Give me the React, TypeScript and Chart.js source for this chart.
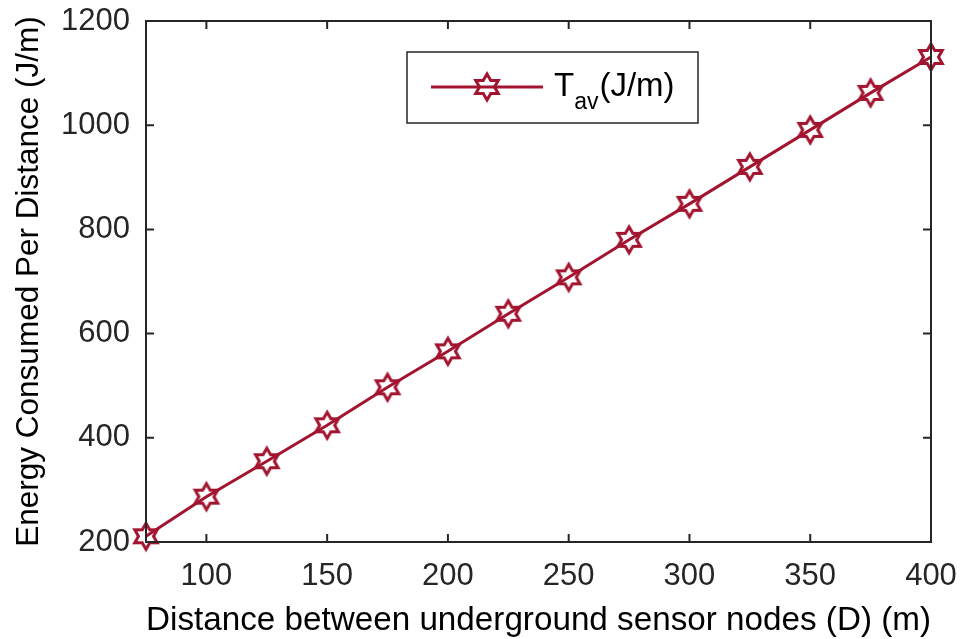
import React, { useEffect, useRef } from "react";
import { Chart, registerables } from "chart.js";

Chart.register(...registerables);

const distances = [75, 100, 125, 150, 175, 200, 225, 250, 275, 300, 325, 350, 375, 400];
const energyPerDistance = [211, 287, 355, 424, 497, 566, 638, 708, 780, 849, 920, 991, 1062, 1131];
const xTicks = [100, 150, 200, 250, 300, 350, 400];
const yTicks = [200, 400, 600, 800, 1000, 1200];
const seriesLabelMain = "T";
const seriesLabelSub = "av";
const seriesLabelTail = "(J/m)";
const xTitle = "Distance between underground sensor nodes (D) (m)";
const yTitle = "Energy Consumed Per Distance (J/m)";

const COLOR = "#A2142F";
const AXIS = "#262626";
const FONT = "'Liberation Sans', Arial, Helvetica, sans-serif";

function makeHexagram(R: number, lw: number): HTMLCanvasElement {
  const size = Math.ceil(2 * R + lw * 2 + 2);
  const c = document.createElement("canvas");
  c.width = size;
  c.height = size;
  const ctx = c.getContext("2d")!;
  const cx = size / 2;
  const cy = size / 2;
  ctx.beginPath();
  for (let k = 0; k < 12; k++) {
    const a = ((-90 + k * 30) * Math.PI) / 180;
    const r = k % 2 === 0 ? R : R / Math.sqrt(3);
    const px = cx + r * Math.cos(a);
    const py = cy + r * Math.sin(a);
    if (k === 0) ctx.moveTo(px, py);
    else ctx.lineTo(px, py);
  }
  ctx.closePath();
  ctx.strokeStyle = COLOR;
  ctx.lineWidth = lw;
  ctx.lineJoin = "miter";
  ctx.stroke();
  return c;
}

const boxPlugin = {
  id: "matlabBox",
  afterDraw(chart: any) {
    const { ctx, chartArea, scales } = chart;
    const { left, right, top, bottom } = chartArea;
    ctx.save();
    ctx.strokeStyle = AXIS;
    ctx.lineWidth = 2;
    ctx.strokeRect(left, top, right - left, bottom - top);
    const tl = 8;
    ctx.beginPath();
    xTicks.forEach((v) => {
      const px = scales.x.getPixelForValue(v);
      ctx.moveTo(px, bottom);
      ctx.lineTo(px, bottom - tl);
      ctx.moveTo(px, top);
      ctx.lineTo(px, top + tl);
    });
    yTicks.forEach((v) => {
      const py = scales.y.getPixelForValue(v);
      ctx.moveTo(left, py);
      ctx.lineTo(left + tl, py);
      ctx.moveTo(right, py);
      ctx.lineTo(right - tl, py);
    });
    ctx.stroke();

    // legend
    const lx = 407, ly = 52, lw = 291, lh = 71;
    ctx.fillStyle = "#ffffff";
    ctx.fillRect(lx, ly, lw, lh);
    ctx.strokeStyle = AXIS;
    ctx.lineWidth = 1.5;
    ctx.strokeRect(lx, ly, lw, lh);
    const midY = ly + 35;
    ctx.strokeStyle = COLOR;
    ctx.lineWidth = 3;
    ctx.beginPath();
    ctx.moveTo(431, midY);
    ctx.lineTo(543, midY);
    ctx.stroke();
    const img = chart.data.datasets[0].pointStyle as HTMLCanvasElement;
    ctx.drawImage(img, 487 - img.width / 2, midY - img.height / 2);
    ctx.fillStyle = "#000000";
    ctx.textBaseline = "alphabetic";
    ctx.textAlign = "left";
    ctx.font = `33px ${FONT}`;
    let tx = 554;
    ctx.fillText(seriesLabelMain, tx, 96);
    tx += ctx.measureText(seriesLabelMain).width;
    ctx.font = `23px ${FONT}`;
    ctx.fillText(seriesLabelSub, tx, 109);
    tx += ctx.measureText(seriesLabelSub).width + 1;
    ctx.font = `33px ${FONT}`;
    ctx.fillText(seriesLabelTail, tx, 96);
    ctx.restore();
  },
};

export default function App() {
  const ref = useRef<HTMLCanvasElement>(null);
  useEffect(() => {
    document.body.style.margin = "0";
    const marker = makeHexagram(13, 3);
    const chart = new Chart(ref.current!, {
      type: "line",
      data: {
        datasets: [
          {
            label: seriesLabelMain + seriesLabelSub + seriesLabelTail,
            data: distances.map((x, i) => ({ x, y: energyPerDistance[i] })),
            borderColor: COLOR,
            borderWidth: 3,
            pointStyle: marker as any,
            pointRadius: 13,
            pointHoverRadius: 13,
            fill: false,
            tension: 0,
            clip: false as any,
          },
        ],
      },
      options: {
        responsive: false,
        animation: false,
        events: [],
        layout: { padding: { top: 21, right: 29, left: 0, bottom: 0 } },
        plugins: {
          legend: { display: false },
          tooltip: { enabled: false },
        },
        scales: {
          x: {
            type: "linear",
            min: 75,
            max: 400,
            afterFit: (s: any) => {
              s.height = 97;
              s.paddingLeft = 0;
              s.paddingRight = 0;
            },
            afterBuildTicks: (s: any) => {
              s.ticks = xTicks.map((v) => ({ value: v }));
            },
            grid: { display: false, drawTicks: false },
            border: { display: false },
            ticks: {
              color: AXIS,
              font: { family: FONT, size: 31 },
              padding: 16,
              maxRotation: 0,
              autoSkip: false,
              callback: (v: any) => String(v),
            },
            title: {
              display: true,
              text: xTitle,
              color: "#000000",
              font: { family: FONT, size: 33.7, lineHeight: 1.08 },
              padding: { top: 0, bottom: 0 },
            },
          },
          y: {
            type: "linear",
            min: 200,
            max: 1200,
            afterFit: (s: any) => {
              s.width = 146;
              s.paddingTop = 0;
              s.paddingBottom = 0;
            },
            afterBuildTicks: (s: any) => {
              s.ticks = yTicks.map((v) => ({ value: v }));
            },
            grid: { display: false, drawTicks: false },
            border: { display: false },
            ticks: {
              color: AXIS,
              font: { family: FONT, size: 31 },
              padding: 16,
              autoSkip: false,
              callback: (v: any) => String(v),
            },
            title: {
              display: true,
              text: yTitle,
              color: "#000000",
              font: { family: FONT, size: 31.5 },
              padding: { top: 10, bottom: 0 },
            },
          },
        },
      },
      plugins: [boxPlugin],
    });
    return () => chart.destroy();
  }, []);
  return (
    <div style={{ position: "absolute", left: 0, top: 0, width: 960, height: 639, background: "#fff" }}>
      <canvas ref={ref} width={960} height={639} />
    </div>
  );
}
